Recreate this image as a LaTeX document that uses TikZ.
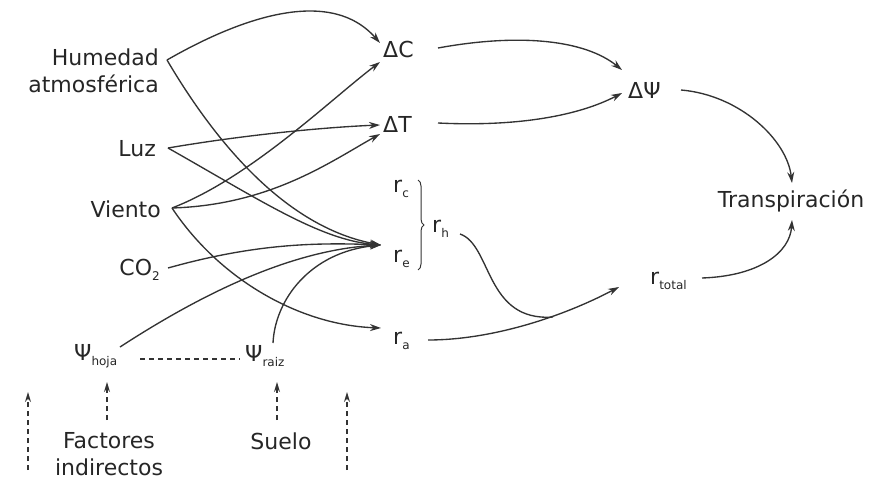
\documentclass[tikz,border=0pt]{standalone}
\usepackage{fontspec}
\setmainfont{DejaVu Sans}
\usetikzlibrary{arrows.meta,decorations.pathreplacing}
\newcommand{\sbx}[1]{\raisebox{-0.45ex}{\fontsize{12}{13}\selectfont #1}}
\tikzset{
  lbl/.style={inner sep=0pt, text=black!85, font=\fontsize{22}{27}\selectfont},
  conn/.style={draw=black!80, line width=1.35pt, -{Stealth[length=11pt,width=7pt]}},
  plain/.style={draw=black!80, line width=1.35pt},
  dsh/.style={draw=black!80, line width=1.3pt, dash pattern=on 5pt off 4pt, -{Stealth[length=10pt,width=6pt]}}
}
\begin{document}
\begin{tikzpicture}[x=1pt,y=-1pt]
\useasboundingbox (0,0) rectangle (877,484);
% nodes
\node[lbl, align=right, anchor=east] (hum) at (159,71) {Humedad\\atmosf\'erica};
\node[lbl, anchor=east] (luz) at (156,149) {Luz};
\node[lbl, anchor=east] (vie) at (161,209) {Viento};
\node[lbl, anchor=east] (co2) at (160,270) {CO\sbx{2}};
\node[lbl, anchor=west] (dC) at (383,49) {ΔC};
\node[lbl, anchor=west] (dT) at (383,124) {ΔT};
\node[lbl, anchor=west] (rc) at (393,189) {r\sbx{c}};
\node[lbl, anchor=west] (re) at (393,259) {r\sbx{e}};
\node[lbl, anchor=west] (rh) at (432,229) {r\sbx{h}};
\node[lbl, anchor=west] (ra) at (393,341) {r\sbx{a}};
\node[lbl, anchor=west] (dP) at (628,90) {ΔΨ};
\node[lbl, anchor=center] (tr) at (791,201) {Transpiraci\'on};
\node[lbl, anchor=west] (rt) at (650,281) {r\sbx{total}};
\node[lbl, anchor=west] (ph) at (74,356) {Ψ\sbx{hoja}};
\node[lbl, anchor=west] (pr) at (245,356) {Ψ\sbx{raiz}};
\node[lbl, align=center] (fi) at (109,454) {Factores\\indirectos};
\node[lbl] (su) at (281,441) {Suelo};
% brace
\draw[plain, line width=1pt, decoration={brace,amplitude=6pt}, decorate] (418,180) -- (418,270);
% exit / entry coordinates
\coordinate (hum-o) at (167,60);
\coordinate (luz-o) at (168,148);
\coordinate (vie-o) at (172,208);
\coordinate (co2-o) at (168,268);
\coordinate (ph-o) at (120,347);
\coordinate (pr-o) at (273,343);
\coordinate (dC-i) at (380,43);
\coordinate (dC-i2) at (380,62);
\coordinate (dT-i) at (380,125);
\coordinate (dT-i2) at (380,134);
\coordinate (re-i) at (381,245);
\coordinate (ra-i) at (381,328);
\coordinate (dC-o) at (438,48);
\coordinate (dT-o) at (438,123);
\coordinate (dP-i) at (622,70);
\coordinate (dP-i2) at (622,93);
\coordinate (dP-o) at (681,90);
\coordinate (tr-i) at (792,183);
\coordinate (tr-i2) at (792,220);
\coordinate (rt-o) at (702,278);
\coordinate (rt-i) at (619,287);
\coordinate (ra-o) at (428,340);
\coordinate (rh-o) at (460,234);
\coordinate (rh-m) at (553,317);
% connectors from factors
\draw[conn] (hum-o) .. controls (240,18) and (330,-14) .. (dC-i);
\draw[conn] (hum-o) .. controls (220,150) and (290,228) .. (re-i);
\draw[conn] (luz-o) .. controls (250,134) and (330,127) .. (dT-i);
\draw[conn] (luz-o) .. controls (260,200) and (320,240) .. (re-i);
\draw[conn] (vie-o) .. controls (250,178) and (330,100) .. (dC-i2);
\draw[conn] (vie-o) .. controls (270,205) and (330,162) .. (dT-i2);
\draw[conn] (vie-o) .. controls (220,280) and (300,325) .. (ra-i);
\draw[conn] (co2-o) .. controls (250,245) and (310,242) .. (re-i);
\draw[conn] (ph-o) .. controls (200,295) and (290,250) .. (re-i);
\draw[conn] (pr-o) .. controls (275,300) and (310,252) .. (re-i);
% right part
\draw[conn] (dC-o) .. controls (520,33) and (585,40) .. (dP-i);
\draw[conn] (dT-o) .. controls (520,127) and (580,115) .. (dP-i2);
\draw[conn] (dP-o) .. controls (740,95) and (787,140) .. (tr-i);
\draw[conn] (rt-o) .. controls (760,276) and (790,252) .. (tr-i2);
\draw[conn] (ra-o) .. controls (490,340) and (560,318) .. (rt-i);
\draw[plain] (rh-o) .. controls (492,245) and (485,322) .. (rh-m);
% dashed
\draw[plain, line width=1.3pt, dash pattern=on 5pt off 4pt] (140,359) -- (240,359);
\draw[dsh] (107,420) -- (107,382);
\draw[dsh] (277,420) -- (277,382);
\draw[dsh] (28,470) -- (28,392);
\draw[dsh] (347,470) -- (347,392);
\end{tikzpicture}
\end{document}
